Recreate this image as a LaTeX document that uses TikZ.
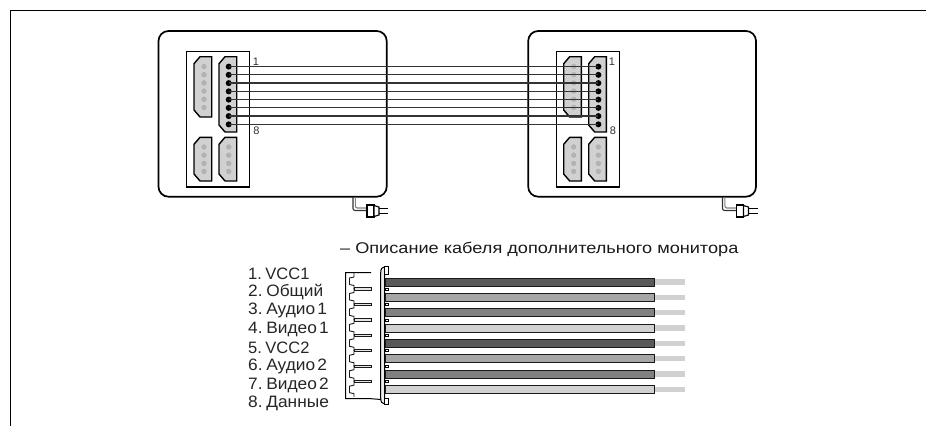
\documentclass[tikz,border=0pt]{standalone}
\usepackage{fontspec}
\setmainfont{Liberation Sans}
\tikzset{
  conn/.style={draw=black,line width=1.4pt,fill=black!18},
  pinD/.style={circle,fill=#1,inner sep=0pt,minimum size=6pt},
  wire/.style={line width=1.25pt,draw=black!80},
  lab/.style={inner sep=0pt,font=\fontsize{11}{11}\selectfont,text=black!80},
  item/.style={inner sep=0pt,anchor=west,font=\fontsize{16.5}{17}\selectfont,text=black!85},
  band/.style={draw=black!90,line width=1pt,fill=#1},
  stub/.style={fill=black!18,draw=none},
  unit/.style={draw=black,line width=1.7pt,rounded corners=10pt,fill=white},
  panel/.style={draw=black,line width=1.1pt},
}
\newcommand{\latw}[1]{\spaceskip=0.12em\relax #1}
\newcommand{\cyrw}[1]{\spaceskip=0.12em\relax\scalebox{1.05}[1]{#1}}
\newcommand{\conn}[4]{% x0,y0,x1,y1 chamfered left corners
  \path[conn] (#1+6,#2) -- (#3,#2) -- (#3,#4) -- (#1+6,#4) -- (#1,#4-7) -- (#1,#2+7) -- cycle;}
\newcommand{\plug}[2]{% x,y of cable start at box
  \begin{scope}[shift={(#1,#2)}]
    \draw[black!80,line width=1.1pt,rounded corners=2pt] (0,0) -- (0,13.5) -- (14,13.5);
    \draw[black!50,line width=1.1pt,rounded corners=2pt] (2.4,0) -- (2.4,11) -- (14,11);
    \draw[black,line width=1.1pt,fill=white] (14,8) rectangle (21,20);
    \draw[black,line width=1.1pt,fill=white] (21,8.5) -- (26,10) -- (26,18) -- (21,19.5) -- cycle;
    \draw[black,line width=1.5pt] (26,11.5) -- (35,11.5) (26,16.5) -- (35,16.5);
  \end{scope}}
\newcommand{\device}[3]{% x offset, box right, panel right
  \path[unit] (#1+158.5,31) rectangle (#2,196.7);
  \draw[panel] (#1+186.7,51.7) rectangle (#3,187);
  \conn{#1+194}{56.7}{#1+211.7}{117}
  \conn{#1+219}{56.7}{#1+236.7}{132}
  \conn{#1+194}{137.3}{#1+211.7}{181}
  \conn{#1+219}{137.3}{#1+236.7}{181}
  \foreach \yy in {66.5,74.7,...,108} {\fill[black!30] (#1+204,\yy) circle (2.7);}
  \foreach \yy in {147,155.2,163.4,171.4} {
    \fill[black!30] (#1+204,\yy) circle (2.7);
    \fill[black!30] (#1+228.7,\yy) circle (2.7);}
}
\begin{document}
\begin{tikzpicture}[x=1pt,y=-1pt]
\useasboundingbox (0,0) rectangle (926,426);
\draw[black,line width=1.1pt] (10.5,426) -- (10.5,10.5) -- (926,10.5);

\device{0}{386.7}{249.7}
\device{369.7}{756}{619.7}
\plug{353}{197}
\plug{722.5}{197}

\foreach \i [evaluate=\i as \yy using 66.6+(\i-1)*8.25] in {1,...,8} {
  \node[pinD=black] (a\i) at (228.7,\yy) {};
  \node[pinD=black] (b\i) at (598.4,\yy) {};
  \draw[wire] (a\i.center) -- (b\i.center);
}
\node[lab] (l1) at (256,62) {1};
\node[lab] (l8) at (256.5,131) {8};
\node[lab] (r1) at (612,62) {1};
\node[lab] (r8) at (613,131) {8};

\node[inner sep=0pt,anchor=west,text=black!90] (title) at (340,249) {\scalebox{1.17}[1]{\fontsize{15.5}{16}\selectfont – Описание кабеля дополнительного монитора}};

\node[item] (t1) at (248,273.5) {\latw{1. VCC1}};
\node[item] (t2) at (248,292) {\cyrw{2. Общий}};
\node[item] (t3) at (248,310.5) {\cyrw{3. Аудио 1}};
\node[item] (t4) at (248,329.5) {\cyrw{4. Видео 1}};
\node[item] (t5) at (248,347.5) {\latw{5. VCC2}};
\node[item] (t6) at (248,366.5) {\cyrw{6. Аудио 2}};
\node[item] (t7) at (248,385) {\cyrw{7. Видео 2}};
\node[item] (t8) at (248,403.5) {\cyrw{8. Данные}};

% housing
\draw[black,line width=1pt] (371,272.5) -- (345.7,272.5) -- (345.7,398.7) -- (371,398.7) -- (381,399.5);
\foreach \i [evaluate=\i as \yy using 272.5+\i*15.45] in {0,...,7} {
  \draw[black!90,line width=0.9pt] (354,\yy) -- (354,\yy+4.5) -- (349.5,\yy+5.5) -- (349.5,\yy+12) -- (354,\yy+13) -- (354,\yy+16.5);
}
\foreach \i [evaluate=\i as \yy using 288.9+\i*15.45] in {0,...,6} {
  \draw[black!90,line width=0.9pt,fill=black!10] (354,\yy-1.2) rectangle (371,\yy+1.2);
}
% flange
\draw[black,line width=1pt,fill=black!8] (384.7,266.7) .. controls (382,266.7) and (380.7,269) .. (380.7,273) -- (380.7,398) .. controls (380.7,402) and (382,404) .. (384.7,404) -- cycle;
\draw[black,line width=1pt,fill=white] (384.7,266.7) rectangle (388,274);
\draw[black,line width=1pt,fill=white] (384.7,398) rectangle (388,404);

% cable
\foreach \i/\c/\yy in {1/black!65/282,2/black!35/297.4,3/black!50/312.6,4/black!18/328,
                     5/black!65/343.3,6/black!35/358.5,7/black!50/374,8/black!18/389.2} {
  \path[stub] (655,\yy-2.6) rectangle (685,\yy+2.6);
  \draw[band=\c] (385.2,\yy-4) rectangle (654,\yy+4);
}
\foreach \yy in {289.4,304.8,320.2,335.3,350.7,366.2,381.4} {
  \draw[black,line width=0.7pt,fill=white] (385.6,\yy-1) rectangle (388,\yy+1);
}
\end{tikzpicture}
\end{document}
